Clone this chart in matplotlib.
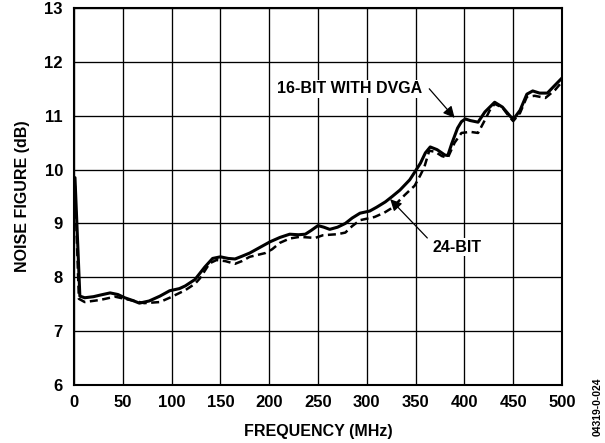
import matplotlib
matplotlib.use('Agg')
import matplotlib.pyplot as plt

plt.rcParams['font.family'] = ['Liberation Sans', 'DejaVu Sans']
plt.rcParams['font.weight'] = 'bold'

# 16-bit with DVGA (solid)
freq_dvga = [1, 6, 11, 20, 27, 37, 45, 52, 60, 67, 77, 88, 98, 108, 114, 124,
             134, 142, 150, 158, 165, 172, 180, 190, 201, 211, 221, 230, 237,
             243, 250, 256, 262, 270, 278, 285, 293, 303, 310, 319, 326, 334,
             344, 349, 355, 360, 365, 372, 380, 383, 387, 393, 397, 401, 406,
             414, 421, 431, 439, 446, 450, 457, 464, 470, 477, 485, 493, 500]
nf_dvga = [9.85, 7.65, 7.62, 7.64, 7.67, 7.71, 7.68, 7.62, 7.57, 7.52, 7.56,
           7.65, 7.75, 7.79, 7.84, 7.96, 8.19, 8.35, 8.38, 8.35, 8.34, 8.39,
           8.45, 8.55, 8.66, 8.74, 8.80, 8.79, 8.80, 8.87, 8.96, 8.93, 8.89,
           8.93, 9.00, 9.10, 9.19, 9.23, 9.30, 9.40, 9.50, 9.62, 9.81, 9.95,
           10.12, 10.31, 10.42, 10.37, 10.27, 10.26, 10.48, 10.77, 10.89,
           10.94, 10.91, 10.88, 11.07, 11.25, 11.16, 11.01, 10.93, 11.10,
           11.40, 11.46, 11.42, 11.42, 11.57, 11.70]

# 24-bit (dashed)
freq_24 = [1, 5, 11, 27, 42, 57, 72, 88, 98, 114, 124, 129, 139, 146, 155, 165,
           172, 180, 196, 203, 211, 221, 231, 240, 247, 255, 262, 270, 278, 285,
           293, 308, 318, 326, 339, 349, 355, 359, 364, 370, 377, 383, 390, 397,
           406, 414, 421, 426, 431, 439, 446, 450, 457, 464, 472, 483, 493, 500]
nf_24 = [9.70, 7.60, 7.54, 7.58, 7.64, 7.58, 7.52, 7.54, 7.62, 7.76, 7.88,
         7.98, 8.26, 8.32, 8.30, 8.25, 8.30, 8.38, 8.45, 8.52, 8.64, 8.72,
         8.75, 8.74, 8.73, 8.78, 8.79, 8.80, 8.83, 8.95, 9.06, 9.12, 9.20,
         9.29, 9.53, 9.70, 9.90, 10.05, 10.35, 10.33, 10.25, 10.22, 10.50,
         10.68, 10.70, 10.68, 10.92, 11.10, 11.22, 11.15, 10.98, 10.90, 11.05,
         11.35, 11.37, 11.33, 11.48, 11.63]

x_ticks = [0, 50, 100, 150, 200, 250, 300, 350, 400, 450, 500]
y_ticks = [6, 7, 8, 9, 10, 11, 12, 13]

fig = plt.figure(figsize=(6.05, 4.43), dpi=100)
ax = fig.add_axes([74 / 605, 1 - 385 / 443, 488 / 605, 377 / 443])

ax.plot(freq_dvga, nf_dvga, color='black', lw=2.2, solid_joinstyle='round',
        solid_capstyle='round', zorder=4)
ax.plot(freq_24, nf_24, color='black', lw=1.8, linestyle=(0, (3.2, 1.8)),
        zorder=3)

ax.set_xlim(0, 500)
ax.set_ylim(6, 13)
ax.set_xticks(x_ticks)
ax.set_yticks(y_ticks)
ax.grid(True, color='black', lw=0.95)
ax.tick_params(length=0, labelsize=12)
ax.tick_params(axis='x', pad=7)
ax.tick_params(axis='y', pad=8)
for s in ax.spines.values():
    s.set_linewidth(1.5)

ax.set_xlabel('FREQUENCY (MHz)', fontsize=11.5, fontweight='bold', labelpad=10)
ax.set_ylabel('NOISE FIGURE (dB)', fontsize=11.5, fontweight='bold', labelpad=10)

# annotations
arrow = dict(arrowstyle='-|>', color='black', lw=0.9, mutation_scale=17,
             shrinkA=0, shrinkB=0)
ax.text(356.5, 11.5, '16-BIT WITH DVGA', ha='right', va='center',
        fontsize=11.5, fontweight='bold', zorder=5,
        bbox=dict(boxstyle='square,pad=0.1', fc='white', ec='none'))
ax.annotate('', xy=(390, 10.96), xytext=(364, 11.5), arrowprops=arrow, zorder=5)
ax.text(367, 8.56, '24-BIT', ha='left', va='center',
        fontsize=11.5, fontweight='bold', zorder=5,
        bbox=dict(boxstyle='square,pad=0.1', fc='white', ec='none'))
ax.annotate('', xy=(324, 9.45), xytext=(362, 8.73), arrowprops=arrow, zorder=5)

fig.text(0.987, 0.081, '04319-0-024', rotation=90, fontsize=7.5,
         fontweight='bold', ha='center', va='center')

fig.savefig('out.png', dpi=100)
